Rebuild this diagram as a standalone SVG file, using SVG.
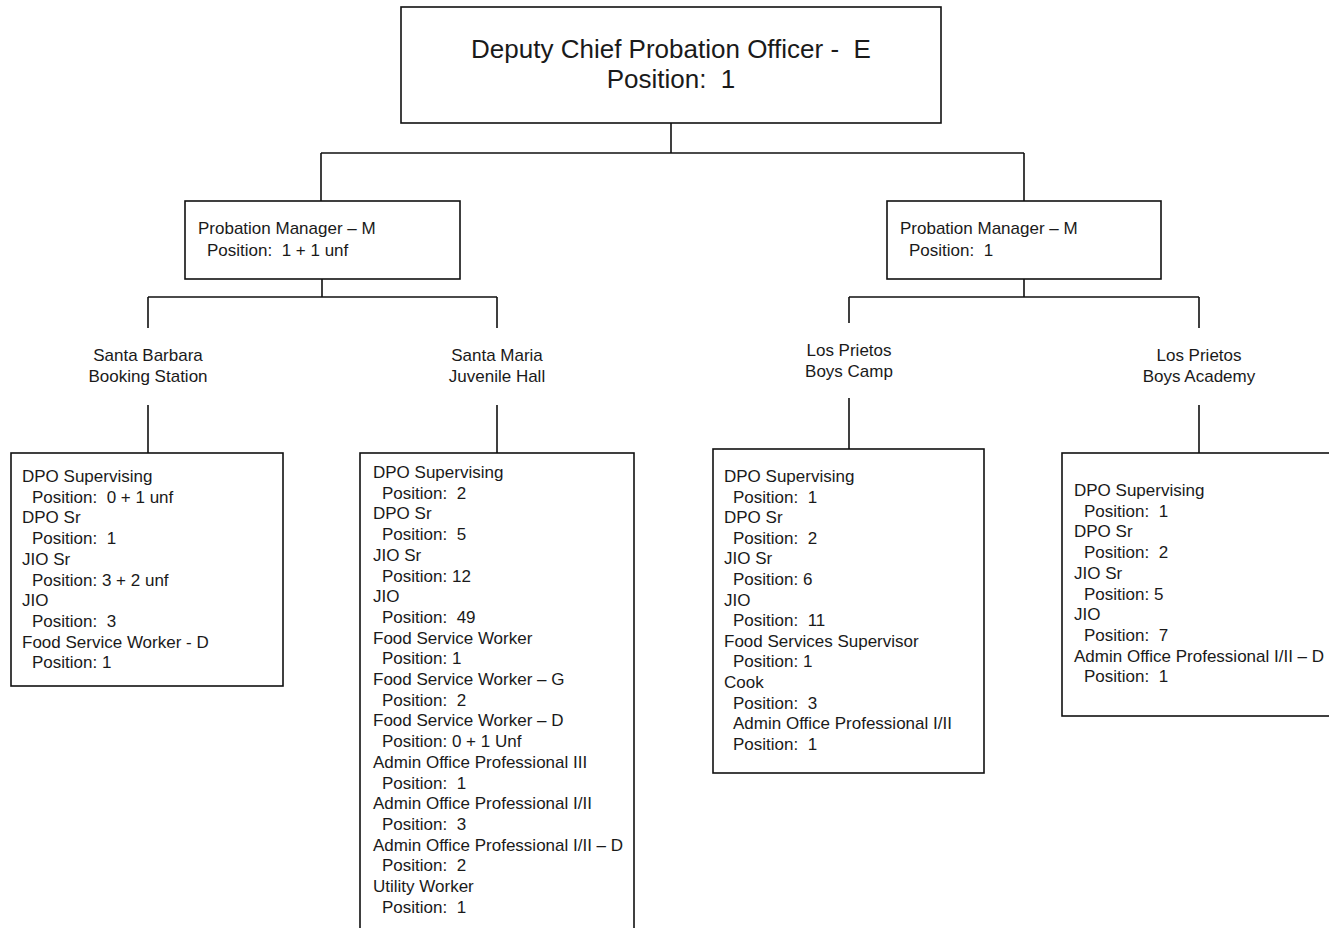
<svg xmlns="http://www.w3.org/2000/svg" width="1329" height="928" viewBox="0 0 1329 928">
<style>
.box{fill:#fff;stroke:#111;stroke-width:1.6}
.t{font-family:"Liberation Sans",Arial,sans-serif;font-size:17px;fill:#1a1a1a;white-space:pre}
.big{font-family:"Liberation Sans",Arial,sans-serif;font-size:26px;fill:#1a1a1a;text-anchor:middle;white-space:pre}
.c{text-anchor:middle}
.conn{fill:none;stroke:#111;stroke-width:1.6}
</style>
<rect width="1329" height="928" fill="#fff"/>
<g id="connectors" class="conn">
<path d="M671,123V153M321,153H1024M321,153V201M1024,153V201"/>
<path d="M322,279V297M148,297H497M148,297V328M497,297V328M148,405V453M497,405V453"/>
<path d="M1024,279V297M849,297H1199M849,297V323M1199,297V328M849,398V449M1199,405V453"/>
</g>
<g id="dcpo">
<rect class="box" x="401" y="7" width="540" height="116"/>
<text class="big" x="671" y="58">Deputy Chief Probation Officer -&#160; E</text>
<text class="big" x="671" y="88">Position:&#160; 1</text>
</g>
<g id="pm-left">
<rect class="box" x="185" y="201" width="275" height="78"/>
<text class="t" x="198" y="234">Probation Manager – M</text>
<text class="t" x="207" y="256">Position:&#160; 1 + 1 unf</text>
</g>
<g id="pm-right">
<rect class="box" x="887" y="201" width="274" height="78"/>
<text class="t" x="900" y="234">Probation Manager – M</text>
<text class="t" x="909" y="256">Position:&#160; 1</text>
</g>
<g id="label-sb">
<text class="t c" x="148" y="361">Santa Barbara</text>
<text class="t c" x="148" y="382">Booking Station</text>
</g>
<g id="label-sm">
<text class="t c" x="497" y="361">Santa Maria</text>
<text class="t c" x="497" y="382">Juvenile Hall</text>
</g>
<g id="label-lpc">
<text class="t c" x="849" y="356">Los Prietos</text>
<text class="t c" x="849" y="377">Boys Camp</text>
</g>
<g id="label-lpa">
<text class="t c" x="1199" y="361">Los Prietos</text>
<text class="t c" x="1199" y="382">Boys Academy</text>
</g>
<g id="box-sb">
<rect class="box" x="11" y="453" width="272" height="233"/>
<text class="t" x="22" y="482">DPO Supervising</text>
<text class="t" x="32" y="502.7">Position:&#160; 0 + 1 unf</text>
<text class="t" x="22" y="523.4">DPO Sr</text>
<text class="t" x="32" y="544.1">Position:&#160; 1</text>
<text class="t" x="22" y="564.8">JIO Sr</text>
<text class="t" x="32" y="585.5">Position: 3 + 2 unf</text>
<text class="t" x="22" y="606.2">JIO</text>
<text class="t" x="32" y="626.9">Position:&#160; 3</text>
<text class="t" x="22" y="647.6">Food Service Worker - D</text>
<text class="t" x="32" y="668.3">Position: 1</text>
</g>
<g id="box-sm">
<rect class="box" x="360" y="453" width="274" height="490"/>
<text class="t" x="373" y="478">DPO Supervising</text>
<text class="t" x="382" y="498.7">Position:&#160; 2</text>
<text class="t" x="373" y="519.4">DPO Sr</text>
<text class="t" x="382" y="540.1">Position:&#160; 5</text>
<text class="t" x="373" y="560.8">JIO Sr</text>
<text class="t" x="382" y="581.5">Position: 12</text>
<text class="t" x="373" y="602.2">JIO</text>
<text class="t" x="382" y="622.9">Position:&#160; 49</text>
<text class="t" x="373" y="643.6">Food Service Worker</text>
<text class="t" x="382" y="664.3">Position: 1</text>
<text class="t" x="373" y="685">Food Service Worker – G</text>
<text class="t" x="382" y="705.7">Position:&#160; 2</text>
<text class="t" x="373" y="726.4">Food Service Worker – D</text>
<text class="t" x="382" y="747.1">Position: 0 + 1 Unf</text>
<text class="t" x="373" y="767.8">Admin Office Professional III</text>
<text class="t" x="382" y="788.5">Position:&#160; 1</text>
<text class="t" x="373" y="809.2">Admin Office Professional I/II</text>
<text class="t" x="382" y="829.9">Position:&#160; 3</text>
<text class="t" x="373" y="850.6">Admin Office Professional I/II – D</text>
<text class="t" x="382" y="871.3">Position:&#160; 2</text>
<text class="t" x="373" y="892">Utility Worker</text>
<text class="t" x="382" y="912.7">Position:&#160; 1</text>
</g>
<g id="box-lpc">
<rect class="box" x="713" y="449" width="271" height="324"/>
<text class="t" x="724" y="482">DPO Supervising</text>
<text class="t" x="733" y="502.6">Position:&#160; 1</text>
<text class="t" x="724" y="523.2">DPO Sr</text>
<text class="t" x="733" y="543.8">Position:&#160; 2</text>
<text class="t" x="724" y="564.4">JIO Sr</text>
<text class="t" x="733" y="585">Position: 6</text>
<text class="t" x="724" y="605.6">JIO</text>
<text class="t" x="733" y="626.2">Position:&#160; 11</text>
<text class="t" x="724" y="646.8">Food Services Supervisor</text>
<text class="t" x="733" y="667.4">Position: 1</text>
<text class="t" x="724" y="688">Cook</text>
<text class="t" x="733" y="708.6">Position:&#160; 3</text>
<text class="t" x="733" y="729.2">Admin Office Professional I/II</text>
<text class="t" x="733" y="749.8">Position:&#160; 1</text>
</g>
<g id="box-lpa">
<rect class="box" x="1062" y="453" width="280" height="263"/>
<text class="t" x="1074" y="496">DPO Supervising</text>
<text class="t" x="1084" y="516.7">Position:&#160; 1</text>
<text class="t" x="1074" y="537.4">DPO Sr</text>
<text class="t" x="1084" y="558.1">Position:&#160; 2</text>
<text class="t" x="1074" y="578.8">JIO Sr</text>
<text class="t" x="1084" y="599.5">Position: 5</text>
<text class="t" x="1074" y="620.2">JIO</text>
<text class="t" x="1084" y="640.9">Position:&#160; 7</text>
<text class="t" x="1074" y="661.6">Admin Office Professional I/II – D</text>
<text class="t" x="1084" y="682.3">Position:&#160; 1</text>
</g>
</svg>
